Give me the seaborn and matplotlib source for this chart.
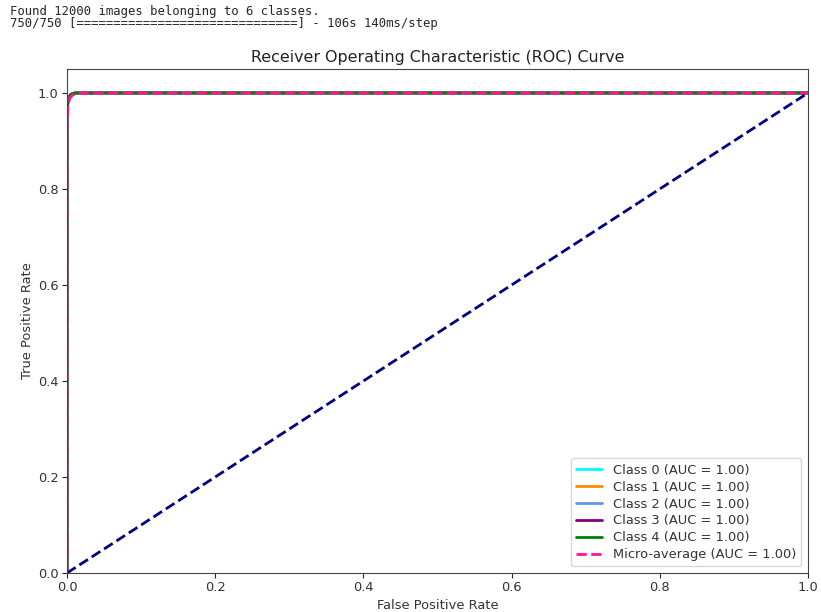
import matplotlib
matplotlib.use("Agg")
import matplotlib.pyplot as plt
import seaborn as sns
import pandas as pd

sns.set_style("ticks")
plt.rcParams["font.family"] = ["DejaVu Sans"]

# ROC curve points per class (false positive rate, true positive rate)
class_names = ["Class 0", "Class 1", "Class 2", "Class 3", "Class 4"]
class_auc = [1.00, 1.00, 1.00, 1.00, 1.00]
fpr_class = [
    [0.0, 0.0, 0.001, 0.003, 0.006, 0.012, 1.0],
    [0.0, 0.0, 0.001, 0.002, 0.005, 0.010, 1.0],
    [0.0, 0.0, 0.001, 0.003, 0.006, 0.012, 1.0],
    [0.0, 0.0, 0.001, 0.002, 0.005, 0.010, 1.0],
    [0.0, 0.0, 0.001, 0.003, 0.006, 0.012, 1.0],
]
tpr_class = [
    [0.0, 0.94, 0.975, 0.988, 0.996, 1.0, 1.0],
    [0.0, 0.95, 0.980, 0.990, 0.997, 1.0, 1.0],
    [0.0, 0.94, 0.975, 0.988, 0.996, 1.0, 1.0],
    [0.0, 0.95, 0.980, 0.990, 0.997, 1.0, 1.0],
    [0.0, 0.96, 0.985, 0.993, 0.998, 1.0, 1.0],
]
class_colors = ["aqua", "darkorange", "cornflowerblue", "purple", "green"]

micro_fpr = [0.0, 0.0, 0.001, 0.002, 0.004, 0.008, 0.015, 1.0]
micro_tpr = [0.0, 0.93, 0.965, 0.980, 0.990, 0.996, 1.0, 1.0]
micro_auc = 1.00

chance_fpr = [0.0, 1.0]
chance_tpr = [0.0, 1.0]

fig = plt.figure(figsize=(8.21, 6.12), dpi=100)
ax = fig.add_axes([0.0816, 0.0637, 0.9025, 0.8236])

for name, auc, fx, ty, col in zip(class_names, class_auc, fpr_class, tpr_class, class_colors):
    df = pd.DataFrame({"fpr": fx, "tpr": ty})
    sns.lineplot(data=df, x="fpr", y="tpr", ax=ax, color=col, lw=2,
                 sort=False, estimator=None,
                 label=f"{name} (AUC = {auc:.2f})")

df_micro = pd.DataFrame({"fpr": micro_fpr, "tpr": micro_tpr})
sns.lineplot(data=df_micro, x="fpr", y="tpr", ax=ax, color="deeppink", lw=2,
             linestyle="--", sort=False, estimator=None,
             label=f"Micro-average (AUC = {micro_auc:.2f})")

ax.plot(chance_fpr, chance_tpr, color="navy", lw=2, linestyle="--")

ax.set_xlim(0.0, 1.0)
ax.set_ylim(0.0, 1.05)
ax.set_xlabel("False Positive Rate", fontsize=9.4, labelpad=3, color="#333333")
ax.set_ylabel("True Positive Rate", fontsize=9.4, labelpad=3, color="#333333")
ax.set_title("Receiver Operating Characteristic (ROC) Curve", fontsize=11.4, pad=5,
             color="#222222")
ax.tick_params(labelsize=9.4, length=3.5, width=0.8, pad=2.5, labelcolor="#333333")
for s in ax.spines.values():
    s.set_linewidth(0.8)
    s.set_color("#444444")

leg = ax.legend(loc="lower right", fontsize=9.4, frameon=True, framealpha=0.8,
                edgecolor="#cccccc", handlelength=2.0, labelspacing=0.3,
                borderpad=0.4)
for t in leg.get_texts():
    t.set_color("#333333")

fig.text(0.012, 0.982, "Found 12000 images belonging to 6 classes.",
         family="DejaVu Sans Mono", fontsize=8.8, va="center", ha="left")
fig.text(0.012, 0.961, "750/750 [==============================] - 106s 140ms/step",
         family="DejaVu Sans Mono", fontsize=8.8, va="center", ha="left")

fig.savefig("out.png", dpi=100, facecolor="white")
